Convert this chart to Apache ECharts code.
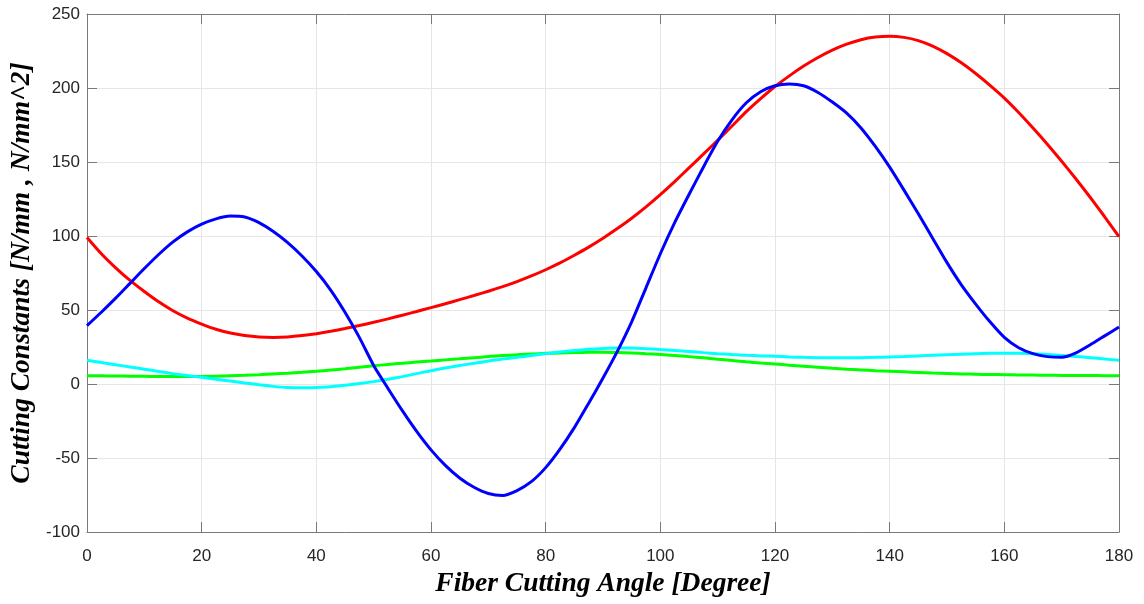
<!DOCTYPE html>
<html>
<head>
<meta charset="utf-8">
<script src="https://cdn.jsdelivr.net/npm/echarts@6/dist/echarts.min.js"></script>
<style>
  html, body { margin: 0; padding: 0; background: #fff; }
  #chart { width: 1144px; height: 604px; }
</style>
</head>
<body>
<div id="chart"></div>
<script>
// Fiber cutting angle, degrees (0..180 every 2.5)
const angles = [0,2.5,5,7.5,10,12.5,15,17.5,20,22.5,25,27.5,30,32.5,35,37.5,40,42.5,45,47.5,
  50,52.5,55,57.5,60,62.5,65,67.5,70,72.5,75,77.5,80,82.5,85,87.5,90,92.5,95,97.5,
  100,102.5,105,107.5,110,112.5,115,117.5,120,122.5,125,127.5,130,132.5,135,137.5,140,142.5,145,147.5,
  150,152.5,155,157.5,160,162.5,165,167.5,170,172.5,175,177.5,180];

// Cutting constants per angle
const redValues = [99,88,78.5,70,62.5,55.5,49.5,44.5,40.5,37,34.5,32.8,31.8,31.5,31.8,32.7,34,35.6,37.5,39.5,
  41.7,44,46.5,49,51.6,54.2,57,59.8,62.7,65.8,69.2,73,77.2,81.8,87,92.5,98.5,105,112,119.7,
  128,136.8,146,155.3,164.7,174.3,184,192.8,201,208.2,214.8,220.6,225.6,229.6,232.6,234.4,235,234.2,232,228.3,
  223.2,217,209.8,201.8,193.2,183.5,173,162,150.5,138.5,126,113,99.5];
const blueValues = [39.5,48.5,58,68,78,87.5,96,102.8,108,111.6,113.5,112.8,109,103,95.5,86.5,76,63.5,48.5,31.5,
  12.5,-3,-18,-32,-44.5,-55,-63.5,-69.8,-74,-75.3,-72,-66,-56.5,-44,-29.5,-13,4,22,42,65,
  88,109,128,146.5,164,178.5,190,197.5,201.5,202.7,201.5,197,190.5,183,173,160.5,146.5,131,115,98.5,
  82,67,54,42,31.5,24.5,20.5,18.5,18,21,26.5,32.5,38.5];
const greenValues = [5.6,5.5,5.4,5.3,5.2,5.1,5,5,5.1,5.3,5.6,5.9,6.3,6.8,7.3,7.9,8.6,9.4,10.3,11.3,
  12.3,13.2,14,14.8,15.5,16.3,17,17.8,18.5,19.2,19.8,20.3,20.7,21,21.3,21.4,21.5,21.3,21,20.5,
  20,19.3,18.5,17.7,16.8,15.9,15,14.2,13.5,12.7,12,11.3,10.6,10,9.5,9,8.6,8.2,7.8,7.4,
  7.1,6.8,6.6,6.4,6.3,6.1,6,5.9,5.8,5.75,5.7,5.65,5.6];
const cyanValues = [16,14.5,13,11.5,10,8.5,7,5.7,4.5,3.2,2,0.7,-0.5,-1.6,-2.4,-2.6,-2.3,-1.8,-0.9,0.3,
  1.6,3.2,5,7,9,10.8,12.5,14,15.5,16.8,18,19.3,20.5,21.6,22.6,23.4,24,24.3,24.3,23.9,
  23.3,22.7,22,21.2,20.5,19.9,19.4,19,18.7,18.3,18,17.8,17.7,17.7,17.8,18,18.3,18.6,19,19.4,
  19.8,20.1,20.4,20.7,20.8,20.8,20.5,20,19.3,18.6,17.8,16.9,16];

const xTitle = 'Fiber Cutting Angle [Degree]';
const yTitle = 'Cutting Constants [N/mm , N/mm^2]';

function pairs(vals) { return angles.map((a, i) => [a, vals[i]]); }

const axisGray = '#7a7a7a';
const gridGray = '#e6e6e6';
const tickFont = { fontFamily: 'Liberation Sans, Arial, sans-serif', fontSize: 17, color: '#262626' };
const titleFont = { fontFamily: 'Liberation Serif, Times New Roman, serif', fontStyle: 'italic', fontWeight: 'bold', fontSize: 27.5, color: '#000' };

function lineSeries(vals, color) {
  return {
    type: 'line', data: pairs(vals), smooth: 0.2, symbol: 'none',
    lineStyle: { color: color, width: 3 }, xAxisIndex: 0, yAxisIndex: 0
  };
}

const chart = echarts.init(document.getElementById('chart'), null, { renderer: 'canvas' });
chart.setOption({
  animation: false,
  backgroundColor: '#ffffff',
  grid: { left: 87, right: 25, top: 14, bottom: 72, containLabel: false },
  xAxis: [
    {
      type: 'value', min: 0, max: 180, interval: 20, position: 'bottom',
      name: xTitle, nameLocation: 'middle', nameGap: 31, nameTextStyle: titleFont,
      axisLine: { show: true, onZero: false, lineStyle: { color: axisGray, width: 1 } },
      axisTick: { show: true, inside: true, length: 10, lineStyle: { color: axisGray } },
      axisLabel: Object.assign({ margin: 16 }, tickFont),
      splitLine: { show: true, lineStyle: { color: gridGray, width: 1 } }
    },
    {
      type: 'value', min: 0, max: 180, interval: 20, position: 'top',
      axisLine: { show: true, onZero: false, lineStyle: { color: axisGray, width: 1 } },
      axisTick: { show: true, inside: true, length: 10, lineStyle: { color: axisGray } },
      axisLabel: { show: false }, splitLine: { show: false }
    }
  ],
  yAxis: [
    {
      type: 'value', min: -100, max: 250, interval: 50, position: 'left',
      name: yTitle, nameLocation: 'middle', nameGap: 48, nameTextStyle: titleFont,
      axisLine: { show: true, onZero: false, lineStyle: { color: axisGray, width: 1 } },
      axisTick: { show: true, inside: true, length: 10, lineStyle: { color: axisGray } },
      axisLabel: Object.assign({ margin: 7 }, tickFont),
      splitLine: { show: true, lineStyle: { color: gridGray, width: 1 } }
    },
    {
      type: 'value', min: -100, max: 250, interval: 50, position: 'right',
      axisLine: { show: true, onZero: false, lineStyle: { color: axisGray, width: 1 } },
      axisTick: { show: true, inside: true, length: 10, lineStyle: { color: axisGray } },
      axisLabel: { show: false }, splitLine: { show: false }
    }
  ],
  series: [
    lineSeries(redValues, '#ff0000'),
    lineSeries(greenValues, '#00ff00'),
    lineSeries(cyanValues, '#00ffff'),
    lineSeries(blueValues, '#0000ff')
  ]
});
</script>
</body>
</html>
